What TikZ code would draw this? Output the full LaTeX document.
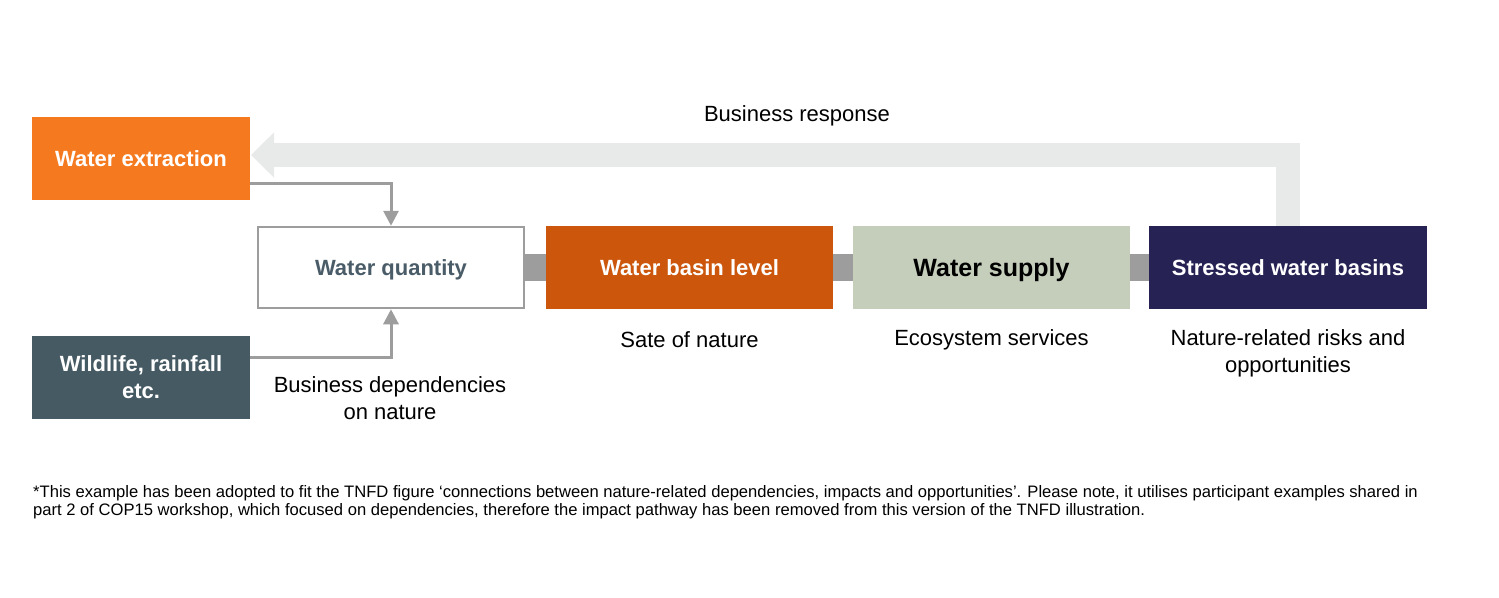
\documentclass[tikz,border=0pt]{standalone}
\usepackage{fontspec}
\setmainfont{Liberation Sans}
\usetikzlibrary{arrows.meta}
\definecolor{extorange}{HTML}{F57A1F}
\definecolor{wildslate}{HTML}{465A64}
\definecolor{basinrust}{HTML}{CB560C}
\definecolor{supplysage}{HTML}{C5CEBB}
\definecolor{stressnavy}{HTML}{262254}
\definecolor{linkgray}{HTML}{9D9D9D}
\definecolor{backgray}{HTML}{E8EAE9}
\definecolor{qtytext}{HTML}{4A5C68}
\begin{document}
\begin{tikzpicture}[x=1pt,y=-1pt,
  box/.style={minimum height=83pt,inner sep=0pt,align=center,text=white,text depth=0pt,
    font=\fontsize{22}{27}\selectfont\bfseries},
  lbl/.style={align=center,font=\fontsize{22}{26.5}\selectfont},
  bar/.style={linkgray,line width=27pt},
  feed/.style={linkgray,line width=3pt,-{Triangle[width=15pt,length=15pt]}}]
\useasboundingbox (0,0) rectangle (1499,597);
\node[box,fill=extorange,minimum width=218pt] (ext) at (141,158.5) {Water extraction};
\node[box,fill=wildslate,minimum width=218pt] (wild) at (141,377.5) {Wildlife, rainfall\\etc.};
\node[box,draw=linkgray,line width=2.5pt,fill=white,text=qtytext,minimum width=266pt,
  minimum height=81pt] (qty) at (391,267.5) {Water quantity};
\node[box,fill=basinrust,minimum width=287pt] (basin) at (689.5,267.5) {Water basin level};
\node[box,fill=supplysage,text=black,minimum width=277pt,
  font=\fontsize{25}{30}\selectfont\bfseries] (supply) at (991.5,267.5) {Water supply};
\node[box,fill=stressnavy,minimum width=278pt] (stress) at (1288,267.5) {Stressed water basins};
\foreach \a/\b in {qty/basin,basin/supply,supply/stress}
  \draw[bar] (\a.east) -- (\b.west);
\coordinate (turn) at (stress.north |- 0,155);
\coordinate (tip) at (251,155);
\draw[backgray,line width=24pt,line join=miter,
  -{Triangle[width=44pt,length=23pt]}] (stress.north) -- (turn) -- (tip);
\draw[feed] (ext.east |- 0,183) -| (qty.north);
\draw[feed] (wild.east |- 0,357) -| (qty.south);
\node[lbl] (resp) at (797,116) {Business response};
\node[lbl] (deps) at (390,398) {Business dependencies\\on nature};
\node[lbl] (sate) at (689.5,340) {Sate of nature};
\node[lbl] (eco) at (991.5,340) {Ecosystem services};
\node[lbl] (risk) at (1288,353.5) {Nature-related risks and\\opportunities};
\node[anchor=base west,align=left,inner sep=0pt,font=\fontsize{16.6}{18}\selectfont] (note) at (33,515)
  {*This example has been adopted to fit the TNFD figure ‘connections between nature-related dependencies, impacts and opportunities’. Please note, it utilises participant examples shared in\\
   part 2 of COP15 workshop, which focused on dependencies, therefore the impact pathway has been removed from this version of the TNFD illustration.};
\end{tikzpicture}
\end{document}
